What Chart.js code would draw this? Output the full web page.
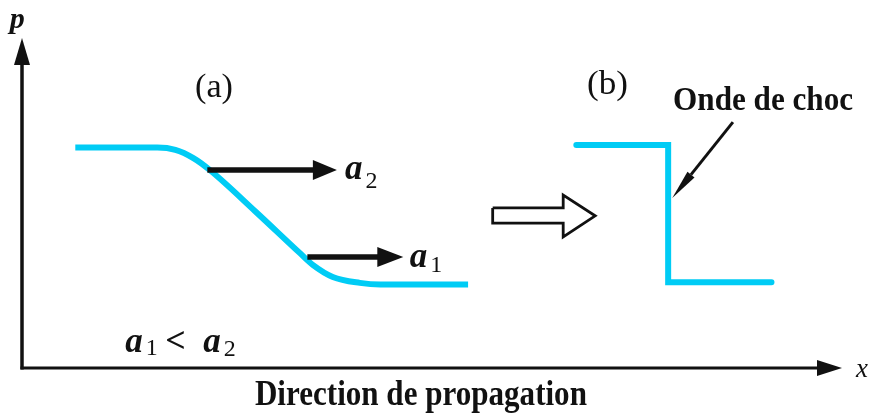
<!DOCTYPE html>
<html>
<head>
<meta charset="utf-8">
<title>Onde de choc</title>
<script src="https://cdn.jsdelivr.net/npm/chart.js@4/dist/chart.umd.min.js"></script>
<style>
  html, body { margin: 0; padding: 0; background: #ffffff; }
  #wrap { width: 873px; height: 414px; }
</style>
</head>
<body>
<div id="wrap"><canvas id="c" width="873" height="414"></canvas></div>
<script>
// (a) pressure profile p(x) of a compression wave, before steepening
const curveX = [6.5, 16.5, 18.7, 20.9, 22.9, 28.4, 33.9, 35.5, 37.9, 41.2, 43.7, 54.4];
const curveP = [66.8, 66.8, 66.1, 63.6, 60.0, 47.6, 34.8, 31.2, 27.6, 25.8, 25.3, 25.3];

// (b) the profile once it has become a shock front
const shockX = [67.6, 78.8, 78.8, 91.4];
const shockP = [67.6, 67.6, 26.0, 26.0];

// wave speed arrows: a2 on the high-pressure part, a1 on the low-pressure part
const speedNames = ['a2', 'a1'];
const speedFromX = [22.6, 34.8];
const speedToX = [38.4, 46.5];
const speedP = [60.0, 33.6];

// hollow "evolves into" arrow between (a) and (b)
const hollowX = [57.4, 66.0, 66.0, 69.9, 66.0, 66.0, 57.4, 57.4];
const hollowP = [48.5, 48.5, 52.4, 46.1, 39.7, 43.9, 43.9, 48.5];

// pointer from the "Onde de choc" label to the front
const pointerX = [86.7, 79.3];
const pointerP = [74.5, 51.5];

// axis extents
const axisX = [0, 100];
const axisP = [0, 100];

const CYAN = 'rgb(0, 204, 245)';
const INK = '#111111';
const SERIF = '"Liberation Serif", "DejaVu Serif", serif';

const toPts = (xs, ys) => xs.map((x, i) => ({ x: x, y: ys[i] }));

function head(ctx, tx, ty, dx, dy, len, half) {
  // filled triangular arrow head with its tip at (tx, ty), pointing along (dx, dy)
  const n = Math.hypot(dx, dy); const ux = dx / n, uy = dy / n;
  const bx = tx - ux * len, by = ty - uy * len;
  ctx.beginPath();
  ctx.moveTo(tx, ty);
  ctx.lineTo(bx - uy * half, by + ux * half);
  ctx.lineTo(bx + uy * half, by - ux * half);
  ctx.closePath();
  ctx.fill();
  return [bx, by];
}

function text(ctx, str, x, y, font, align, fitW, fitH) {
  ctx.save();
  ctx.font = font;
  ctx.textAlign = align || 'left';
  ctx.textBaseline = 'alphabetic';
  const w = ctx.measureText(str).width;
  ctx.translate(x, y);
  ctx.scale(fitW ? fitW / w : 1, fitH || 1);
  ctx.fillText(str, 0, 0);
  ctx.restore();
  return fitW || w;
}

// italic symbol with a subscript, e.g. a2
function symbol(ctx, base, sub, x, y, drop) {
  const w = text(ctx, base, x, y, 'italic bold 35px ' + SERIF, 'left');
  text(ctx, sub, x + w + 3, y + drop, '24px ' + SERIF, 'left');
  return w;
}

const diagramPlugin = {
  id: 'diagram',
  afterDatasetsDraw(chart) {
    const ctx = chart.ctx;
    const sx = chart.scales.x, sy = chart.scales.y;
    const X = v => sx.getPixelForValue(v);
    const Y = v => sy.getPixelForValue(v);
    ctx.save();
    ctx.fillStyle = INK;
    ctx.strokeStyle = INK;
    ctx.lineCap = 'butt';

    // p axis
    const ox = X(axisX[0]), oy = Y(axisP[0]);
    ctx.lineWidth = 3.5;
    ctx.beginPath(); ctx.moveTo(ox, oy + 1.5); ctx.lineTo(ox, Y(axisP[1]) + 20); ctx.stroke();
    head(ctx, ox, Y(axisP[1]), 0, -1, 27, 8);
    // x axis
    ctx.lineWidth = 3;
    ctx.beginPath(); ctx.moveTo(ox - 1.5, oy); ctx.lineTo(X(axisX[1]) - 20, oy); ctx.stroke();
    head(ctx, X(axisX[1]), oy, 1, 0, 25, 8);

    // speed arrows a2 / a1
    ctx.lineWidth = 5.5;
    speedNames.forEach((nm, i) => {
      const y = Y(speedP[i]);
      const x0 = X(speedFromX[i]), x1 = X(speedToX[i]);
      const hl = i === 0 ? 24 : 26;
      ctx.beginPath(); ctx.moveTo(x0, y); ctx.lineTo(x1 - hl + 2, y); ctx.stroke();
      head(ctx, x1, y, 1, 0, hl, 10);
    });

    // pointer towards the shock front
    const px0 = X(pointerX[0]), py0 = Y(pointerP[0]);
    const px1 = X(pointerX[1]), py1 = Y(pointerP[1]);
    ctx.lineWidth = 3;
    const [bx, by] = head(ctx, px1, py1, px1 - px0, py1 - py0, 30, 4.5);
    ctx.beginPath(); ctx.moveTo(px0, py0); ctx.lineTo(bx, by); ctx.stroke();

    // texts
    ctx.fillStyle = INK;
    text(ctx, 'p', X(-1.5), Y(103.0), 'italic bold 30px ' + SERIF, 'left');
    text(ctx, 'x', X(101.7), Y(-2.8), 'italic 27px ' + SERIF, 'left');
    text(ctx, '(a)', X(21.1), Y(82.1), '32px ' + SERIF, 'left', 38, 1.05);
    text(ctx, '(b)', X(68.9), Y(83.0), '32px ' + SERIF, 'left', 41, 1.05);
    text(ctx, 'Onde de choc', X(79.4), Y(78.2), 'bold 31px ' + SERIF, 'left', 180, 1.1);
    text(ctx, 'Direction de propagation', (X(28.4) + X(68.9)) / 2, Y(-11.2), 'bold 32px ' + SERIF, 'center', 332, 1.1);

    symbol(ctx, 'a', '2', X(39.4), Y(57.3), 9);
    symbol(ctx, 'a', '1', X(47.3), Y(30.6), 5);

    // a1 < a2
    const bxl = X(12.6), byl = Y(4.8);
    symbol(ctx, 'a', '1', bxl, byl, 3);
    text(ctx, '<', bxl + 40, byl, 'bold 36px ' + SERIF, 'left');
    symbol(ctx, 'a', '2', bxl + 78, byl, 4);
    ctx.restore();
  }
};

new Chart(document.getElementById('c'), {
  type: 'scatter',
  data: {
    datasets: [
      {
        label: 'p(x) (a)',
        data: toPts(curveX, curveP),
        showLine: true,
        borderColor: CYAN,
        borderWidth: 6,
        cubicInterpolationMode: 'monotone',
        borderCapStyle: 'butt',
        pointRadius: 0
      },
      {
        label: 'p(x) (b)',
        data: toPts(shockX, shockP),
        showLine: true,
        borderColor: CYAN,
        borderWidth: 6,
        borderJoinStyle: 'miter',
        borderCapStyle: 'round',
        tension: 0,
        pointRadius: 0
      },
      {
        label: 'évolution',
        data: toPts(hollowX, hollowP),
        showLine: true,
        borderColor: INK,
        borderWidth: 2.8,
        borderJoinStyle: 'miter',
        tension: 0,
        pointRadius: 0
      }
    ]
  },
  options: {
    responsive: false,
    animation: false,
    devicePixelRatio: 1,
    events: [],
    layout: { padding: { left: 22, right: 31, top: 38, bottom: 46 } },
    scales: {
      x: { type: 'linear', min: axisX[0], max: axisX[1], display: false },
      y: { type: 'linear', min: axisP[0], max: axisP[1], display: false }
    },
    plugins: { legend: { display: false }, tooltip: { enabled: false } }
  },
  plugins: [diagramPlugin]
});
</script>
</body>
</html>
